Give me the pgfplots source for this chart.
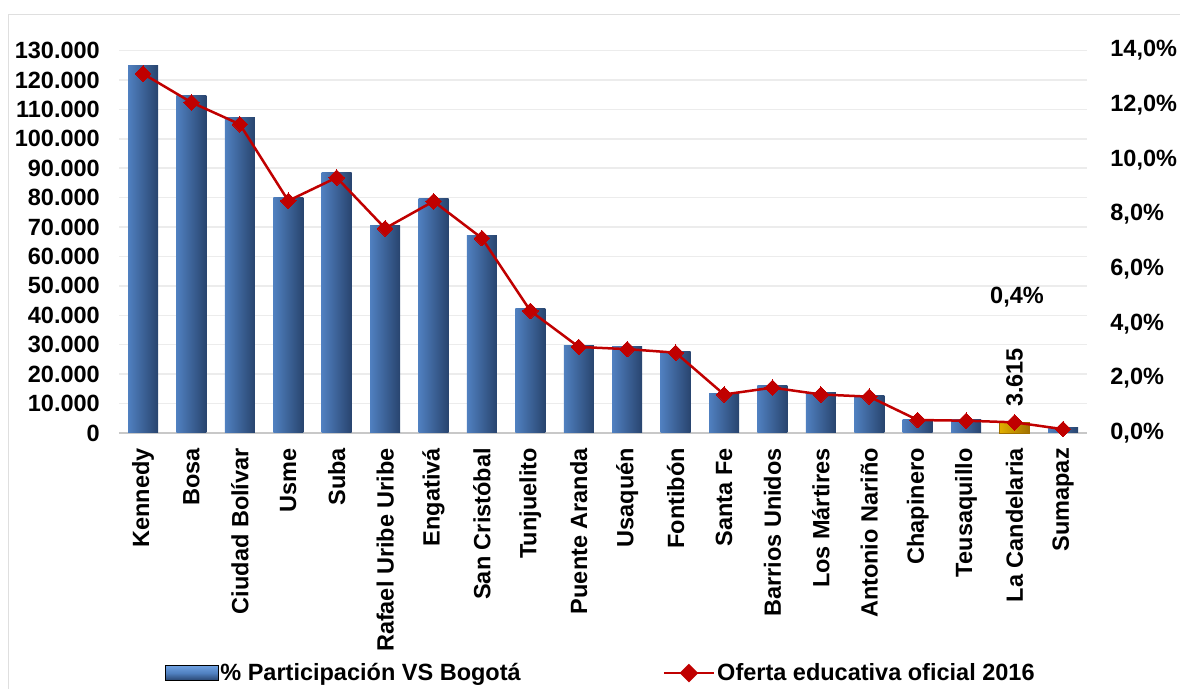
\documentclass[border=0pt]{standalone}
\usepackage{pgfplots}
\pgfplotsset{compat=1.18}
\usepackage{fontspec}
\setmainfont{Liberation Sans}
\definecolor{barL}{RGB}{80,128,192}
\definecolor{barM}{RGB}{112,162,226}
\definecolor{barR}{RGB}{40,68,110}
\definecolor{goldL}{RGB}{225,175,0}
\definecolor{goldM}{RGB}{255,222,60}
\definecolor{goldR}{RGB}{160,112,0}
\definecolor{lineRed}{RGB}{192,0,0}
\definecolor{gridG}{RGB}{236,236,236}
\definecolor{axisG}{RGB}{200,200,200}
\newcommand{\cf}{\fontsize{23.5bp}{28bp}\selectfont\bfseries}
\pgfplotsset{cyl/.style={ybar, bar shift=0pt, bar width=30bp, draw=none, left color=barL, middle color=barM, right color=barR}}
\begin{document}
\begin{tikzpicture}[font=\cf]
\path[use as bounding box] (0,0) rectangle (1180bp,689bp);
\draw[gray!25, line width=1bp] (8bp,-10bp) -- (8bp,674bp) -- (1190bp,674bp);
\begin{axis}[
  at={(118.8bp,256bp)}, anchor=south west,
  scale only axis, width=968.4bp, height=382.5bp,
  xmin=-0.5, xmax=19.5, ymin=0, ymax=130000,
  axis x line*=bottom, axis y line*=left,
  x axis line style={axisG, line width=1.5bp, -},
  y axis line style={draw=none},
  major tick length=0pt,
  xtick={0,...,19},
  xticklabels={Kennedy,Bosa,Ciudad Bolívar,Usme,Suba,Rafael Uribe Uribe,Engativá,San Cristóbal,Tunjuelito,Puente Aranda,Usaquén,Fontibón,Santa Fe,Barrios Unidos,Los Mártires,Antonio Nariño,Chapinero,Teusaquillo,La Candelaria,Sumapaz},
  xticklabel style={yshift=-15bp, rotate=90, anchor=east, inner sep=0pt, font=\cf},
  ytick={0,10000,...,130000},
  scaled y ticks=false,
  yticklabel style={/pgf/number format/fixed, /pgf/number format/1000 sep={.}, /pgf/number format/assume math mode=true},
  y tick label style={anchor=east, inner sep=0pt, xshift=-18.8bp, font=\cf},
  ymajorgrids, major grid style={gridG, line width=1.5bp},
  clip=false,
]
\addplot[cyl] coordinates {(0,124800)};
\addplot[cyl] coordinates {(1,114700)};
\addplot[cyl] coordinates {(2,107300)};
\addplot[cyl] coordinates {(3,80200)};
\addplot[cyl] coordinates {(4,88400)};
\addplot[cyl] coordinates {(5,70600)};
\addplot[cyl] coordinates {(6,79800)};
\addplot[cyl] coordinates {(7,67200)};
\addplot[cyl] coordinates {(8,42400)};
\addplot[cyl] coordinates {(9,29900)};
\addplot[cyl] coordinates {(10,29300)};
\addplot[cyl] coordinates {(11,27800)};
\addplot[cyl] coordinates {(12,13500)};
\addplot[cyl] coordinates {(13,16000)};
\addplot[cyl] coordinates {(14,13700)};
\addplot[cyl] coordinates {(15,12800)};
\addplot[cyl] coordinates {(16,4750)};
\addplot[cyl] coordinates {(17,4500)};
\addplot[cyl, draw=goldR, line width=0.5bp, left color=goldL, middle color=goldM, right color=goldR] coordinates {(18,3615)};
\addplot[cyl] coordinates {(19,1700)};
\node[rotate=90, inner sep=0pt] at (axis cs:18,18840) {3.615};
\node[inner sep=0pt] at (axis cs:18.05,46160) {0,4\%};
\end{axis}
\begin{axis}[
  at={(118.8bp,256bp)}, anchor=south west,
  scale only axis, width=968.4bp, height=382.5bp,
  xmin=-0.5, xmax=19.5, ymin=0, ymax=14,
  axis x line=none, axis y line*=right,
  y axis line style={draw=none},
  major tick length=0pt,
  ytick={0,2,...,14},
  yticklabel={\pgfmathprintnumber[fixed,fixed zerofill,precision=1,use comma,assume math mode=true]{\tick}\%},
  y tick label style={anchor=west, inner sep=0pt, xshift=23bp, font=\cf},
  clip=false,
  legend columns=2,
  legend style={draw=none, fill=none, at={(axis description cs:0.0477,-0.6275)}, anchor=west,
    inner sep=0pt, outer sep=0pt, font=\cf,
    nodes={inner sep=2bp},
    /tikz/every even column/.append style={column sep=140bp}},
  legend cell align=left,
]
\addlegendimage{legend image code/.code={\fill[top color=barM, bottom color=barR, middle color=barL] (0bp,-7.5bp) rectangle (53bp,7.5bp);}}
\addlegendentry{\% Participación VS Bogotá}
\addplot[lineRed, line width=2.5bp, mark=square*, mark size=5.5bp, mark options={rotate=45, fill=lineRed, draw=lineRed, line width=0pt},
  legend image code/.code={\draw[lineRed, line width=2.5bp] (0bp,0bp) -- (50bp,0bp); \fill[lineRed] (25bp,-7.5bp) -- (32.5bp,0bp) -- (25bp,7.5bp) -- (17.5bp,0bp) -- cycle;}]
 coordinates {(0,13.15) (1,12.1) (2,11.3) (3,8.5) (4,9.35) (5,7.49) (6,8.48) (7,7.13) (8,4.47) (9,3.15) (10,3.07) (11,2.94) (12,1.41) (13,1.66) (14,1.41) (15,1.33) (16,0.475) (17,0.45) (18,0.39) (19,0.14)};
\addlegendentry{Oferta educativa oficial 2016}
\end{axis}
\end{tikzpicture}
\end{document}
